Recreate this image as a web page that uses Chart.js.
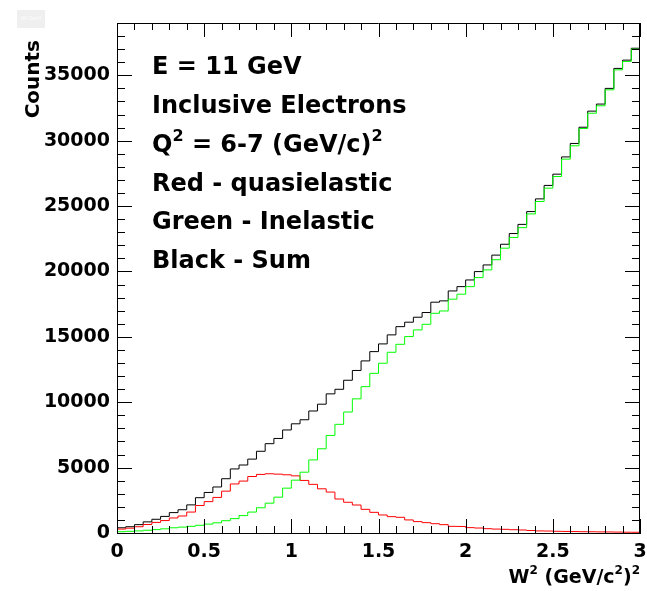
<!DOCTYPE html>
<html>
<head>
<meta charset="utf-8">
<script src="https://cdn.jsdelivr.net/npm/chart.js"></script>
<style>
  html, body { margin: 0; padding: 0; background: #fff; }
  canvas { display: block; }
</style>
</head>
<body>
<canvas id="c" width="647" height="591"></canvas>
<script>
// Histogramas W^2, bins de 0.05 desde 0 hasta 3
const binWidth = 0.05;

const quasielastic = [
  300, 370, 480, 650, 810, 950, 1150, 1300, 1600, 2100,
  2400, 2720, 3200, 3750, 3970, 4320, 4480, 4530, 4500, 4450,
  4370, 4020, 3720, 3380, 3130, 2600, 2350, 2140, 1810, 1580,
  1380, 1250, 1200, 1000, 870, 790, 710, 640, 510, 500,
  410, 380, 330, 300, 280, 250, 230, 190, 160, 150,
  130, 120, 110, 100, 95, 85, 80, 70, 60, 55
];
const inelastic = [
  100, 130, 160, 210, 260, 320, 400, 450, 510, 590,
  680, 780, 940, 1100, 1330, 1600, 1930, 2280, 2740, 3430,
  4040, 4650, 5590, 6440, 7460, 8310, 9250, 10260, 11190, 12210,
  12980, 13820, 14430, 15020, 15530, 15960, 16800, 16980, 17880, 18260,
  18840, 19530, 20120, 20900, 21780, 22600, 23350, 24400, 25350, 26370,
  27260, 28590, 29610, 30930, 32100, 32670, 33890, 35420, 36060, 37000
];
const sum = [
  400, 480, 640, 850, 1050, 1270, 1560, 1780, 2150, 2700,
  3100, 3520, 4150, 4900, 5200, 5650, 6250, 6830, 7230, 7880,
  8350, 8660, 9330, 9850, 10640, 10990, 11680, 12430, 13160, 13870,
  14460, 15150, 15780, 16120, 16500, 16860, 17650, 17750, 18510, 18840,
  19350, 19990, 20500, 21250, 22080, 22900, 23600, 24580, 25550, 26580,
  27440, 28760, 29790, 31030, 32260, 32800, 34000, 35530, 36160, 37070
];

const xTickValues = [0, 0.5, 1, 1.5, 2, 2.5, 3];
const yTickValues = [0, 5000, 10000, 15000, 20000, 25000, 30000, 35000];

const infoLines = [
  [{ t: 'E = 11 GeV' }],
  [{ t: 'Inclusive Electrons' }],
  [{ t: 'Q' }, { t: '2', sup: true }, { t: ' = 6-7 (GeV/c)' }, { t: '2', sup: true }],
  [{ t: 'Red - quasielastic' }],
  [{ t: 'Green - Inelastic' }],
  [{ t: 'Black - Sum' }]
];
const xTitle = [{ t: 'W' }, { t: '2', sup: true }, { t: ' (GeV/c' }, { t: '2', sup: true }, { t: ')' }, { t: '2', sup: true }];

const FONT = '"DejaVu Sans", sans-serif';

// pasos: un punto por borde inferior de bin, y uno extra al final
function histPoints(vals) {
  const pts = vals.map((v, i) => ({ x: i * binWidth, y: v }));
  pts.push({ x: vals.length * binWidth, y: vals[vals.length - 1] });
  return pts;
}

function richWidth(ctx, parts, size) {
  let w = 0;
  parts.forEach(p => {
    ctx.font = 'bold ' + (p.sup ? Math.round(size * 0.65) : size) + 'px ' + FONT;
    w += ctx.measureText(p.t).width;
  });
  return w;
}

function drawRich(ctx, parts, x, y, size) {
  let cx = x;
  parts.forEach(p => {
    const s = p.sup ? Math.round(size * 0.65) : size;
    ctx.font = 'bold ' + s + 'px ' + FONT;
    ctx.fillText(p.t, cx, p.sup ? y - size * 0.38 : y);
    cx += ctx.measureText(p.t).width;
  });
}

const decorPlugin = {
  id: 'decor',
  afterDraw(chart) {
    const ctx = chart.ctx;
    const a = chart.chartArea;
    const xs = chart.scales.x, ys = chart.scales.y;
    ctx.save();
    ctx.strokeStyle = '#000';
    ctx.lineWidth = 1;

    // marco superior y derecho
    ctx.beginPath();
    ctx.moveTo(a.left, a.top + 0.5); ctx.lineTo(a.right, a.top + 0.5);
    ctx.moveTo(a.right - 0.5, a.top); ctx.lineTo(a.right - 0.5, a.bottom);
    ctx.stroke();

    // marcas en x (abajo y arriba), hacia adentro
    ctx.beginPath();
    for (let i = 0; i <= 30; i++) {
      const v = i / 10;
      const px = Math.round(xs.getPixelForValue(v)) + 0.5;
      const len = (i % 5 === 0) ? 14 : 7;
      ctx.moveTo(px, a.bottom); ctx.lineTo(px, a.bottom - len);
      ctx.moveTo(px, a.top); ctx.lineTo(px, a.top + len);
    }
    // marcas en y (izquierda y derecha)
    for (let v = 0; v <= ys.max; v += 1000) {
      const py = Math.round(ys.getPixelForValue(v)) + 0.5;
      const len = (v % 5000 === 0) ? 15 : 8;
      ctx.moveTo(a.left, py); ctx.lineTo(a.left + len, py);
      ctx.moveTo(a.right, py); ctx.lineTo(a.right - len, py);
    }
    ctx.stroke();

    ctx.fillStyle = '#000';
    ctx.textBaseline = 'middle';
    ctx.textAlign = 'left';
    const y0 = 68, dy = 38.8;
    infoLines.forEach((parts, i) => drawRich(ctx, parts, 152, y0 + i * dy, 24));

    // titulo eje x
    const tw = richWidth(ctx, xTitle, 19);
    drawRich(ctx, xTitle, a.right - tw, 578, 19);

    // titulo eje y
    ctx.save();
    ctx.translate(34, 40);
    ctx.rotate(-Math.PI / 2);
    ctx.textAlign = 'right';
    ctx.font = 'bold 20px ' + FONT;
    ctx.fillText('Counts', 0, 0);
    ctx.restore();

    // cajita gris arriba a la izquierda
    ctx.fillStyle = '#efefef';
    ctx.fillRect(17, 10, 28, 18);
    ctx.fillStyle = '#fff';
    ctx.font = '5px ' + FONT;
    ctx.textAlign = 'center';
    ctx.fillText('W² GeV²', 31, 19);
    ctx.restore();
  }
};

new Chart(document.getElementById('c').getContext('2d'), {
  type: 'line',
  data: {
    datasets: [
      { label: 'Inelastic', data: histPoints(inelastic), borderColor: '#00ff00' },
      { label: 'Quasielastic', data: histPoints(quasielastic), borderColor: '#ff0000' },
      { label: 'Sum', data: histPoints(sum), borderColor: '#000000' }
    ]
  },
  options: {
    responsive: false,
    animation: false,
    devicePixelRatio: 1,
    datasets: { line: { stepped: true, borderWidth: 1, pointRadius: 0, fill: false, tension: 0 } },
    layout: { padding: { top: 23, right: 7, left: 0, bottom: 0 } },
    plugins: { legend: { display: false }, tooltip: { enabled: false } },
    scales: {
      x: {
        type: 'linear', min: 0, max: 3,
        grid: { display: false, drawTicks: false },
        border: { display: true, color: '#000', width: 1 },
        afterBuildTicks: s => { s.ticks = xTickValues.map(v => ({ value: v })); },
        ticks: { color: '#000', padding: 8, maxRotation: 0, autoSkip: false,
                 font: { family: FONT, size: 19, weight: 'bold' },
                 callback: v => String(v) },
        afterFit: s => { s.height = 58; s.paddingLeft = 0; s.paddingRight = 0; }
      },
      y: {
        type: 'linear', min: 0, max: 39000,
        grid: { display: false, drawTicks: false },
        border: { display: true, color: '#000', width: 1 },
        afterBuildTicks: s => { s.ticks = yTickValues.map(v => ({ value: v })); },
        ticks: { color: '#000', padding: 7, autoSkip: false,
                 font: { family: FONT, size: 19, weight: 'bold' },
                 callback: v => String(v) },
        afterFit: s => { s.width = 117; s.paddingTop = 0; s.paddingBottom = 0; }
      }
    }
  },
  plugins: [decorPlugin]
});
</script>
</body>
</html>
